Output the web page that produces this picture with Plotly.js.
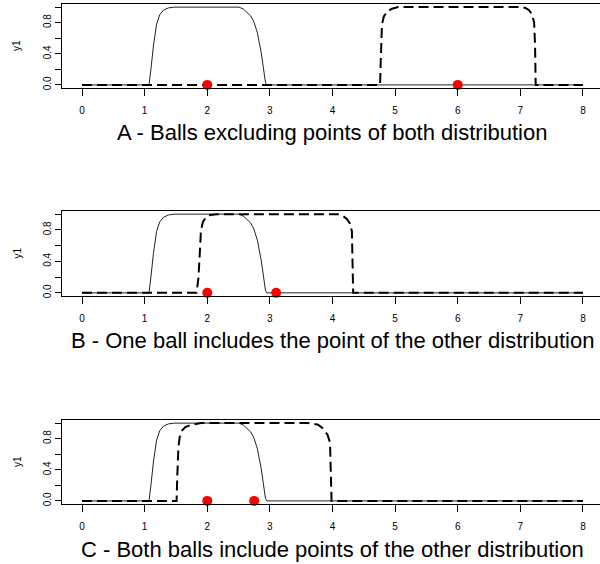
<!DOCTYPE html>
<html>
<head>
<meta charset="utf-8">
<script src="https://cdn.plot.ly/plotly-3.0.1.min.js"></script>
<style>html,body{margin:0;padding:0;background:#fff;}#chart{width:600px;height:564px;}</style>
</head>
<body>
<div id="chart"></div>
<script>
// Solid ball (same in all three panels), centred at 2
const xSolid = [0, 1.07, 1.1, 1.14, 1.19, 1.24, 1.3, 1.38, 1.48, 1.6, 2.5, 2.57, 2.63, 2.69, 2.74, 2.8, 2.86, 2.93, 2.95, 8];
const ySolid = [0, 0, 0.2, 0.5, 0.78, 0.9, 0.96, 0.99, 1.0, 1.0, 1.0, 0.98, 0.94, 0.89, 0.82, 0.67, 0.42, 0.03, 0, 0];

// Dashed balls
const xDashA = [0, 4.76, 4.77, 4.78, 4.79, 4.82, 4.87, 4.95, 5.05, 7.0, 7.08, 7.14, 7.19, 7.22, 7.235, 7.245, 8];
const yDashA = [0, 0, 0.3, 0.65, 0.78, 0.88, 0.94, 0.98, 1.0, 1.0, 0.99, 0.96, 0.9, 0.8, 0.5, 0, 0];

const xDashB = [0, 1.83, 1.86, 1.88, 1.9, 1.93, 1.98, 2.05, 2.15, 4.08, 4.16, 4.23, 4.28, 4.31, 4.32, 4.33, 8];
const yDashB = [0, 0, 0.2, 0.5, 0.8, 0.9, 0.96, 0.99, 1.0, 1.0, 0.98, 0.94, 0.88, 0.78, 0.4, 0, 0];

const xDashC = [0, 1.51, 1.52, 1.54, 1.56, 1.59, 1.65, 1.75, 1.9, 3.6, 3.7, 3.77, 3.85, 3.92, 3.96, 3.975, 3.985, 8];
const yDashC = [0, 0, 0.3, 0.7, 0.82, 0.9, 0.95, 0.98, 1.0, 1.0, 0.99, 0.98, 0.93, 0.85, 0.75, 0.4, 0, 0];

// Red points
const ptsXA = [2, 6];
const ptsXB = [2, 3.1];
const ptsXC = [2, 2.75];
const ptsY = [0, 0];

const xTicks = [0, 1, 2, 3, 4, 5, 6, 7, 8];
const yTicks = [0, 0.2, 0.4, 0.6, 0.8, 1.0];
const yTickText = ['0.0', '', '0.4', '', '0.8', ''];

const titles = [
  'A - Balls excluding points of both distribution',
  'B - One ball includes the point of the other distribution',
  'C - Both balls include points of the other distribution'
];
const yLabel = 'y1';

const W = 600, H = 564;
const FONT = 'Liberation Sans, Arial, sans-serif';
// panel pixel boxes: [top, bottom]
const panels = [[4, 88], [211, 296], [420, 504]];
const titleY = [132, 340, 549];
const dashX = [xDashA, xDashB, xDashC];
const dashY = [yDashA, yDashB, yDashC];
const ptsX = [ptsXA, ptsXB, ptsXC];

const traces = [];
const layout = {
  width: W, height: H,
  margin: {l: 0, r: 0, t: 0, b: 0},
  paper_bgcolor: '#fff', plot_bgcolor: '#fff',
  showlegend: false,
  font: {family: FONT, color: '#000'},
  annotations: []
};

for (let i = 0; i < 3; i++) {
  const sx = i === 0 ? '' : String(i + 1);
  const xa = 'x' + sx, ya = 'y' + sx;
  traces.push({x: xSolid, y: ySolid, xaxis: xa, yaxis: ya, mode: 'lines', type: 'scatter',
    line: {color: '#222', width: 1}, hoverinfo: 'skip'});
  traces.push({x: dashX[i], y: dashY[i], xaxis: xa, yaxis: ya, mode: 'lines', type: 'scatter',
    line: {color: '#000', width: 2, dash: '10px,5px'}, hoverinfo: 'skip'});
  traces.push({x: ptsX[i], y: ptsY, xaxis: xa, yaxis: ya, mode: 'markers', type: 'scatter',
    marker: {color: '#ff0000', size: 10}, cliponaxis: false, hoverinfo: 'skip'});

  const [top, bot] = panels[i];
  layout['xaxis' + sx] = {
    domain: [62 / W, 1], range: [-0.32, 8.272], anchor: ya,
    tickvals: xTicks, ticks: 'outside', ticklen: 7, tickcolor: '#000',
    showline: true, mirror: true, linecolor: '#000', linewidth: 1,
    showgrid: false, zeroline: false, fixedrange: true,
    tickfont: {size: 10, family: FONT, color: '#000'}, ticklabelstandoff: 6
  };
  layout['yaxis' + sx] = {
    domain: [(H - bot) / H, (H - top) / H], range: [-0.04, 1.04], anchor: xa,
    tickvals: yTicks, ticktext: yTickText, tickangle: -90,
    ticks: 'outside', ticklen: 6, tickcolor: '#000',
    showline: true, linecolor: '#000', linewidth: 1,
    showgrid: false, zeroline: false, fixedrange: true,
    tickfont: {size: 10, family: FONT, color: '#000'}
  };
  layout.annotations.push({
    text: titles[i], xref: 'paper', yref: 'paper',
    x: 332 / W, y: (H - titleY[i]) / H, xanchor: 'center', yanchor: 'middle',
    showarrow: false, font: {size: 22, family: FONT, color: '#000'}
  });
  layout.annotations.push({
    text: yLabel, xref: 'paper', yref: 'paper', textangle: -90,
    x: 17 / W, y: (H - (top + bot) / 2) / H, xanchor: 'center', yanchor: 'middle',
    showarrow: false, font: {size: 10, family: FONT, color: '#000'}
  });
}

Plotly.newPlot('chart', traces, layout, {displayModeBar: false, staticPlot: true});
</script>
</body>
</html>
